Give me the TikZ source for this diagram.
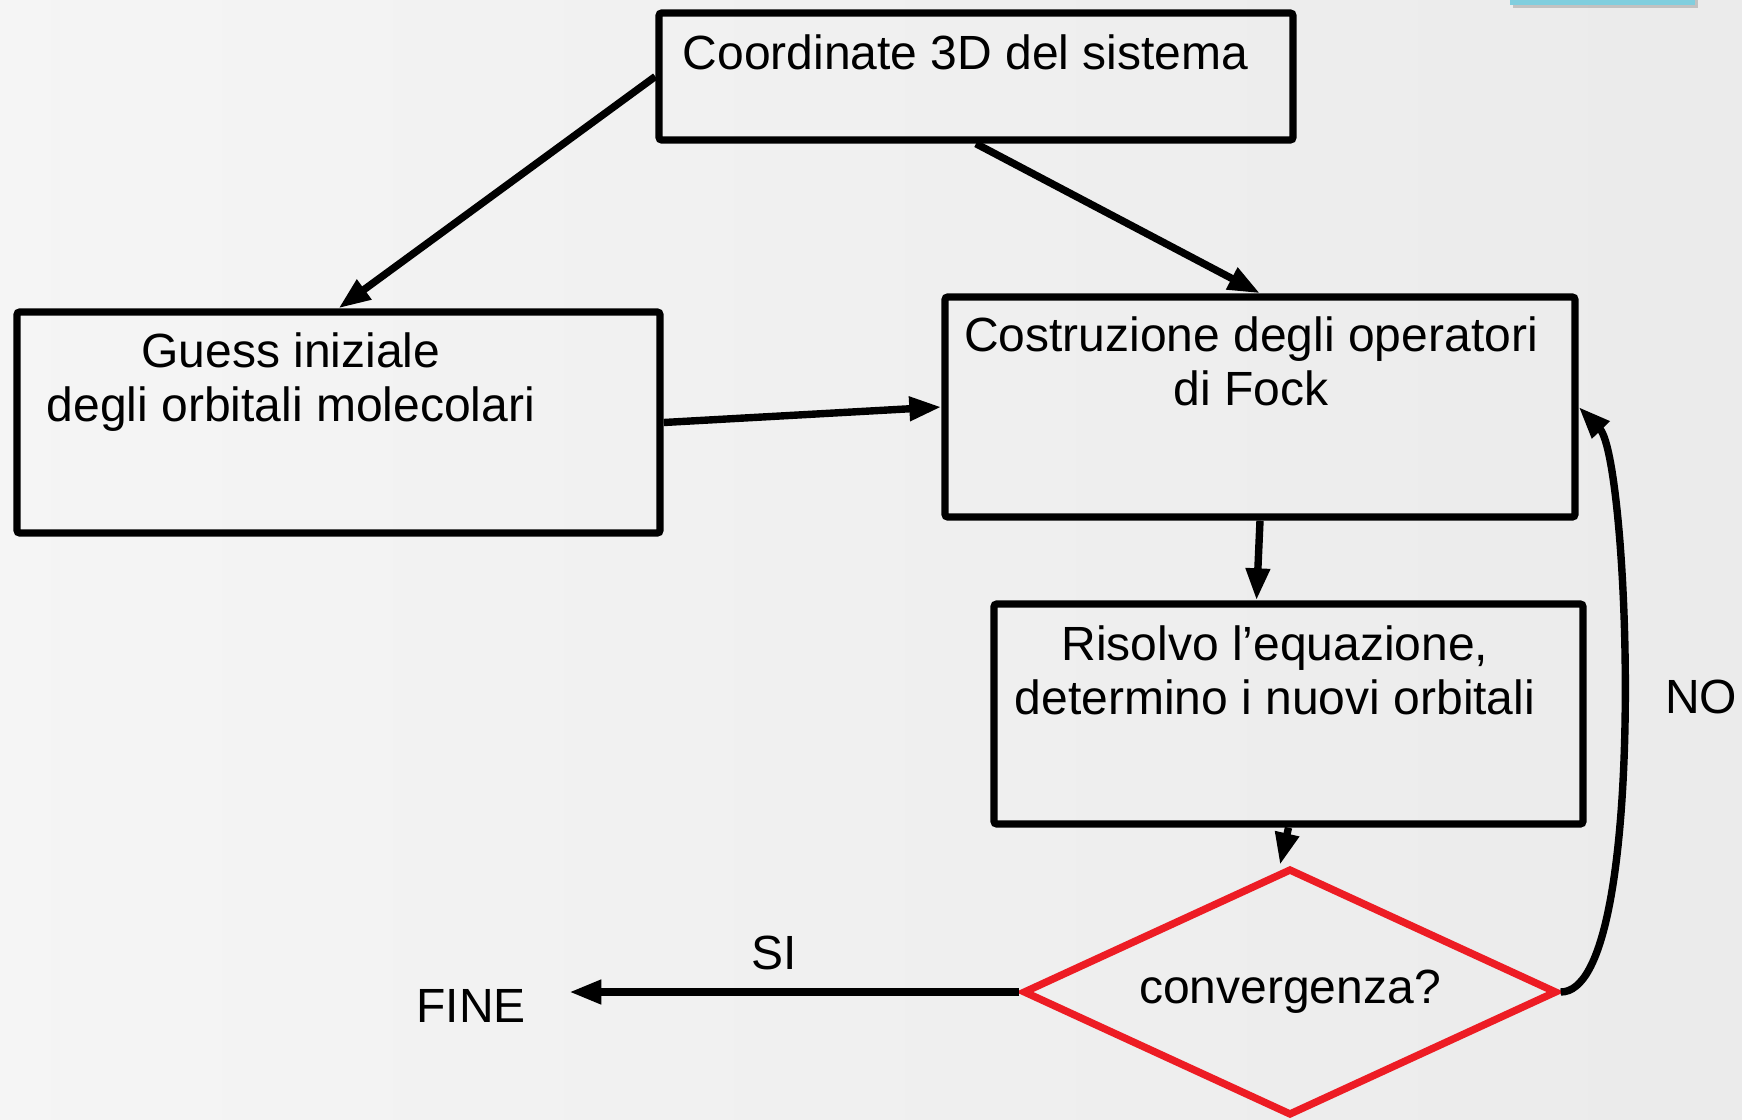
\documentclass[tikz,border=0pt]{standalone}
\usepackage{fontspec}
\setmainfont{Liberation Sans}
\usetikzlibrary{arrows.meta,shapes.geometric}

\definecolor{flowred}{RGB}{237,28,36}
\definecolor{barblue}{RGB}{128,206,222}

\tikzset{every picture/.style={line width=3.7pt}}
\tikzset{
  stepbox/.style={draw, rectangle, rounded corners=1.5pt, inner sep=0pt},
  boxtext/.style={inner sep=0pt, font=\fontsize{24}{27}\selectfont, align=center},
  flow/.style={line width=3.7pt, -{Triangle[length=16pt,width=11.5pt]}},
}

\begin{document}
\begin{tikzpicture}[x=0.5pt,y=0.5pt,yscale=-1,xscale=1]
\useasboundingbox (0,0) rectangle (1742,1120);

%Background
\shade [left color=white!96!black, right color=white!92!black] (0,0) rectangle (1742,1120);
%Shape: Rectangle (bar at top right)
\fill [black!35, opacity=0.6] (1513,0) rectangle (1698,8);
\fill [barblue] (1510,0) rectangle (1695,5);

%Shape: Rectangle
\node [stepbox, minimum width=317pt, minimum height=63.5pt] (coord) at (976,76.5) {};
%Shape: Rectangle
\node [stepbox, minimum width=321.5pt, minimum height=110.5pt] (guess) at (338.5,422.5) {};
%Shape: Rectangle
\node [stepbox, minimum width=315pt, minimum height=110pt] (fock) at (1260,407) {};
%Shape: Rectangle
\node [stepbox, minimum width=294.5pt, minimum height=110pt] (solve) at (1288.5,714) {};
%Shape: Diamond
\node [draw=flowred, diamond, aspect=2.16, minimum width=267pt, minimum height=123.5pt, boxtext] (conv) at (1290,992) {convergenza?};

% Text Node
\node [boxtext, anchor=base] (fine) at (471,1022) {FINE};
% Text Node
\node [boxtext, anchor=base] (no) at (1701,713) {NO};

%Straight Lines
\draw [flow] (coord.west) -- (guess.north);
%Straight Lines
\draw [flow] (coord.south) -- (fock.north);
%Straight Lines
\draw [flow] (guess.east) -- (fock.west);
%Straight Lines
\draw [flow] (fock.south) -- ([xshift=-16pt]solve.north);
%Straight Lines
\draw [flow] (solve.south) -- ([xshift=-5pt]conv.north);
%Straight Lines
\draw [flow] (conv.west) -- ([xshift=20pt]conv.west -| fine.east) node [boxtext, pos=0.544, above=9pt] (si) {SI};
%Curve Lines
\draw [flow] (conv.east) .. controls (1650,992) and (1630,460) .. (fock.east);

% Text Node
\node [boxtext, anchor=base west] (coordtxt) at (679,69) {Coordinate 3D del sistema};
% Text Node
\node [boxtext, anchor=base] (guesstxt) at (291,421) {Guess iniziale\\degli orbitali molecolari};
% Text Node
\node [boxtext, anchor=base] (focktxt) at (1251,405) {Costruzione degli operatori\\di Fock};
% Text Node
\node [boxtext, anchor=base] (solvetxt) at (1275,714) {Risolvo l’equazione,\\determino i nuovi orbitali};

\end{tikzpicture}
\end{document}
